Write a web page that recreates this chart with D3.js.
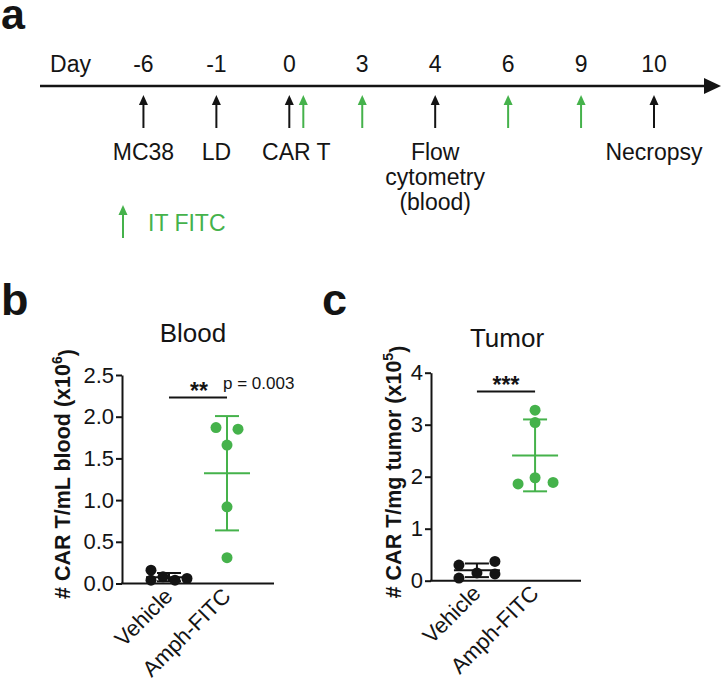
<!DOCTYPE html>
<html>
<head>
<meta charset="utf-8">
<script src="https://cdn.jsdelivr.net/npm/d3@7"></script>
<style>
  html, body { margin: 0; padding: 0; background: #fff; }
  svg { display: block; font-family: "Liberation Sans", Arial, Helvetica, sans-serif; }
</style>
</head>
<body>
<svg id="chart" width="722" height="681"></svg>
<script>
// ---------- DATA ----------
// Panel a: timeline
const timelineDays = ["-6", "-1", "0", "3", "4", "6", "9", "10"];
const blackArrowDays = ["-6", "-1", "0", "4", "10"];
const greenArrowDays = ["0", "3", "6", "9"];
const eventLabels = [
  { day: "-6", lines: ["MC38"] },
  { day: "-1", lines: ["LD"] },
  { day: "0", lines: ["CAR T"] },
  { day: "4", lines: ["Flow", "cytometry", "(blood)"] },
  { day: "10", lines: ["Necropsy"] }
];
// Panel b: Blood (x10^6 CAR T/mL)
const groups = ["Vehicle", "Amph-FITC"];
const bloodVehicle = [0.16, 0.04, 0.08, 0.04, 0.06];
const bloodAmph = [1.87, 1.85, 1.66, 0.92, 0.31];
const bloodTicks = [0, 0.5, 1.0, 1.5, 2.0, 2.5];
// Panel c: Tumor (x10^5 CAR T/mg)
const tumorVehicle = [0.30, 0.05, 0.15, 0.37, 0.13];
const tumorAmph = [3.28, 3.04, 1.86, 1.98, 1.89];
const tumorTicks = [0, 1, 2, 3, 4];

// ---------- STYLE / LAYOUT ----------
const BLACK = "#141414";
const GREEN = "#45b24b";
const svg = d3.select("#chart");

// ---------- Panel a ----------
const tl = svg.append("g");
tl.append("text").attr("x", 1).attr("y", 29).attr("font-size", 43).attr("font-weight", "bold")
  .attr("fill", BLACK).text("a");

const tx = d3.scalePoint().domain(["Day"].concat(timelineDays)).range([70.5, 654]);
const lineY = 86;
tl.selectAll("text.day").data(["Day"].concat(timelineDays)).join("text")
  .attr("class", "day").attr("x", d => tx(d)).attr("y", 72)
  .attr("text-anchor", "middle").attr("font-size", 23).attr("fill", BLACK).text(d => d);

tl.append("line").attr("x1", 40).attr("x2", 706).attr("y1", lineY).attr("y2", lineY)
  .attr("stroke", BLACK).attr("stroke-width", 2.5);
tl.append("path").attr("d", `M704,${lineY-8} L721,${lineY} L704,${lineY+8} Z`).attr("fill", BLACK);

function upArrow(g, x, y1, y2, color) {
  g.append("line").attr("x1", x).attr("x2", x).attr("y1", y1 + 8).attr("y2", y2)
    .attr("stroke", color).attr("stroke-width", 2);
  g.append("path").attr("d", `M${x-4.5},${y1+10} L${x},${y1} L${x+4.5},${y1+10} Z`).attr("fill", color);
}
const greenShift = d => (blackArrowDays.includes(d) ? 14 : 0);
blackArrowDays.forEach(d => upArrow(tl, tx(d), 95, 128, BLACK));
greenArrowDays.forEach(d => upArrow(tl, tx(d) + greenShift(d), 95, 128, GREEN));

eventLabels.forEach(ev => {
  const x = tx(ev.day) + (ev.day === "0" ? 7 : 0);
  ev.lines.forEach((t, i) => {
    tl.append("text").attr("x", x).attr("y", 160 + i * 25)
      .attr("text-anchor", "middle").attr("font-size", 23).attr("fill", BLACK).text(t);
  });
});
// legend
upArrow(tl, 123, 205, 238, GREEN);
tl.append("text").attr("x", 148).attr("y", 231).attr("font-size", 23).attr("fill", GREEN).text("IT FITC");

// ---------- Scatter panels ----------
function panel(opts) {
  const g = svg.append("g");
  const y = d3.scaleLinear().domain(opts.domain).range([opts.y0, opts.y1]);
  const x = d3.scalePoint().domain(groups).range([opts.axisX, opts.axisX2]).padding(opts.pad);

  g.append("text").attr("x", opts.letterX).attr("y", opts.letterY).attr("font-size", 45)
    .attr("font-weight", "bold").attr("fill", BLACK).text(opts.letter);
  g.append("text").attr("x", opts.titleX).attr("y", opts.titleY).attr("text-anchor", "middle")
    .attr("font-size", 26).attr("fill", BLACK).text(opts.title);

  const ax = g.append("g").attr("transform", `translate(${opts.axisX},0)`)
    .call(d3.axisLeft(y).tickValues(opts.ticks).tickFormat(opts.fmt).tickSize(6).tickPadding(2).tickSizeOuter(0));
  ax.select(".domain").attr("stroke", BLACK).attr("stroke-width", 2);
  ax.selectAll(".tick line").attr("stroke", BLACK).attr("stroke-width", 2);
  ax.selectAll(".tick text").attr("font-size", 22).attr("fill", BLACK)
    .attr("font-family", "'Liberation Sans', Arial, sans-serif");

  g.append("line").attr("x1", opts.axisX - 1).attr("x2", opts.axisX2).attr("y1", y(0)).attr("y2", y(0))
    .attr("stroke", BLACK).attr("stroke-width", 2);

  // y label
  const yl = g.append("text").attr("transform", `translate(${opts.ylabX},${opts.ylabY}) rotate(-90)`)
    .attr("text-anchor", "middle").attr("dy", "0.36em").attr("font-size", 21.5).attr("font-weight", "bold")
    .attr("fill", BLACK);
  yl.append("tspan").text(opts.ylab);
  yl.append("tspan").attr("dy", "-0.55em").attr("font-size", 14).text(opts.sup);
  yl.append("tspan").attr("dy", "0.55em").text(")");

  // x labels
  groups.forEach(gname => {
    g.append("text").attr("transform", `translate(${x(gname) + 5},${y(0) + 14}) rotate(-45)`)
      .attr("text-anchor", "end").attr("font-size", 22).attr("fill", BLACK).text(gname);
  });

  // groups
  const sets = [
    { name: "Vehicle", vals: opts.vehicle, dx: opts.vehDx, color: BLACK },
    { name: "Amph-FITC", vals: opts.amph, dx: opts.amphDx, color: GREEN }
  ];
  sets.forEach(s => {
    const cx = x(s.name);
    const m = d3.mean(s.vals), sd = d3.deviation(s.vals);
    g.append("line").attr("x1", cx).attr("x2", cx).attr("y1", y(m - sd)).attr("y2", y(m + sd))
      .attr("stroke", s.color).attr("stroke-width", 2);
    [m - sd, m + sd].forEach(v => g.append("line").attr("x1", cx - 12).attr("x2", cx + 12)
      .attr("y1", y(v)).attr("y2", y(v)).attr("stroke", s.color).attr("stroke-width", 2));
    g.append("line").attr("x1", cx - 23).attr("x2", cx + 23).attr("y1", y(m)).attr("y2", y(m))
      .attr("stroke", s.color).attr("stroke-width", 2);
    g.selectAll(null).data(s.vals).join("circle")
      .attr("cx", (d, i) => cx + s.dx[i]).attr("cy", d => y(d)).attr("r", 5.5).attr("fill", s.color);
  });

  // significance
  g.append("line").attr("x1", x("Vehicle")).attr("x2", x("Amph-FITC")).attr("y1", opts.sigY).attr("y2", opts.sigY)
    .attr("stroke", BLACK).attr("stroke-width", 2);
  g.append("text").attr("x", opts.starX).attr("y", opts.sigY + 1).attr("text-anchor", "middle")
    .attr("font-size", 23).attr("font-weight", "bold").attr("fill", BLACK).text(opts.stars);
  if (opts.pText) {
    g.append("text").attr("x", opts.pX).attr("y", opts.pY).attr("font-size", 17).attr("fill", BLACK).text(opts.pText);
  }
}

panel({
  letter: "b", letterX: 1, letterY: 315, title: "Blood", titleX: 193, titleY: 342,
  domain: [0, 2.5], y0: 583.5, y1: 375, ticks: bloodTicks, fmt: d3.format(".1f"),
  axisX: 122, axisX2: 274, pad: 0.81,
  ylab: "# CAR T/mL blood (x10", sup: "6", ylabX: 62, ylabY: 474,
  vehicle: bloodVehicle, amph: bloodAmph,
  vehDx: [-18, -18, -6, 6, 18], amphDx: [-11, 11, 0, 0, 0],
  sigY: 397.5, stars: "**", starX: 199, pText: "p = 0.003", pX: 223, pY: 389
});

panel({
  letter: "c", letterX: 322, letterY: 315, title: "Tumor", titleX: 507, titleY: 347,
  domain: [0, 4], y0: 580.7, y1: 372.7, ticks: tumorTicks, fmt: d3.format("d"),
  axisX: 431, axisX2: 581, pad: 0.79,
  ylab: "# CAR T/mg tumor (x10", sup: "5", ylabX: 393, ylabY: 472,
  vehicle: tumorVehicle, amph: tumorAmph,
  vehDx: [-18, -18, 0, 18, 18], amphDx: [0, 0, -17, 0, 18],
  sigY: 391.5, stars: "***", starX: 506, pText: null
});
</script>
</body>
</html>
